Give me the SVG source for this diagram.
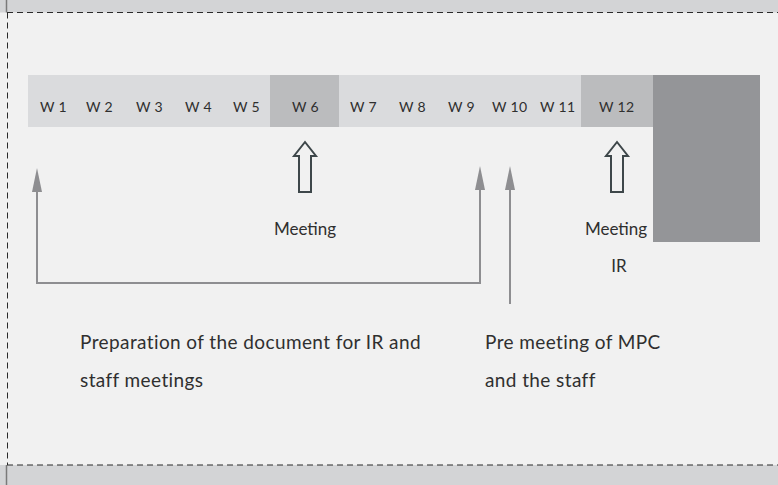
<svg xmlns="http://www.w3.org/2000/svg" width="778" height="485" viewBox="0 0 778 485">
<defs>
<style>
.t{font-family:Lato,"Liberation Sans",sans-serif;fill:#2f2f2f}
.w{font-size:14px;letter-spacing:0.3px}
.m{font-size:17px}
.b{font-size:19px;letter-spacing:0.4px}
.c{stroke:#8e8e91;stroke-width:2;fill:none}
.h{fill:none;stroke:#3e474a;stroke-width:2;stroke-linejoin:miter}
.d{stroke:#2a2a2a;stroke-width:1;stroke-dasharray:6,4;fill:none}
</style>
<marker id="ah" viewBox="0 0 24 10" refX="0" refY="5" markerWidth="24" markerHeight="10" markerUnits="userSpaceOnUse" orient="auto">
<path d="M0,0 L24,5 L0,10 Z" fill="#8e8e91"/>
</marker>
</defs>
<rect x="0" y="0" width="778" height="485" fill="#f1f1f1"/>
<rect x="0" y="0" width="778" height="12.5" fill="#d3d4d6"/>
<rect x="0" y="465" width="778" height="20" fill="#d3d4d6"/>
<line x1="6.5" y1="0" x2="6.5" y2="12.5" stroke="#7a7a7a" stroke-width="1.5"/>
<line x1="6.5" y1="465" x2="6.5" y2="485" stroke="#7a7a7a" stroke-width="1.5"/>
<line class="d" x1="7" y1="12.5" x2="778" y2="12.5"/>
<line class="d" x1="7" y1="465" x2="778" y2="465"/>
<line class="d" x1="7.5" y1="12.5" x2="7.5" y2="465"/>

<g id="timeline">
<rect x="28" y="75" width="242" height="52" fill="#dadbdd"/>
<rect x="270" y="75" width="69" height="52" fill="#bbbcbe"/>
<rect x="339" y="75" width="242" height="52" fill="#dadbdd"/>
<rect x="581" y="75" width="72" height="52" fill="#bbbcbe"/>
<rect x="653" y="75" width="107" height="167" fill="#949598"/>
<text class="t w" x="40" y="112">W 1</text>
<text class="t w" x="86" y="112">W 2</text>
<text class="t w" x="136" y="112">W 3</text>
<text class="t w" x="185" y="112">W 4</text>
<text class="t w" x="233" y="112">W 5</text>
<text class="t w" x="292" y="112">W 6</text>
<text class="t w" x="350" y="112">W 7</text>
<text class="t w" x="399" y="112">W 8</text>
<text class="t w" x="448" y="112">W 9</text>
<text class="t w" x="492" y="112">W 10</text>
<text class="t w" x="540" y="112">W 11</text>
<text class="t w" x="599" y="112">W 12</text>
</g>

<g id="meeting1">
<path class="h" d="M305,142 L316,156 L311,156 L311,192 L299,192 L299,156 L294,156 Z"/>
<text class="t m" x="305" y="235" text-anchor="middle">Meeting</text>
</g>
<g id="meeting2">
<path class="h" d="M617,142 L628,156 L623,156 L623,192 L611,192 L611,156 L606,156 Z"/>
<text class="t m" x="616" y="235" text-anchor="middle">Meeting</text>
<text class="t m" x="619" y="272" text-anchor="middle">IR</text>
</g>

<g id="connectors">
<path class="c" d="M37,283 L37,192" marker-end="url(#ah)"/>
<path class="c" d="M36,283 L480,283 L480,190" marker-end="url(#ah)"/>
<path class="c" d="M510,304 L510,190" marker-end="url(#ah)"/>
</g>

<g id="label1">
<text class="t b" x="80" y="349">Preparation of the document for IR and</text>
<text class="t b" x="80" y="387">staff meetings</text>
</g>
<g id="label2">
<text class="t b" x="485" y="349">Pre meeting of MPC</text>
<text class="t b" x="485" y="387">and the staff</text>
</g>
</svg>
